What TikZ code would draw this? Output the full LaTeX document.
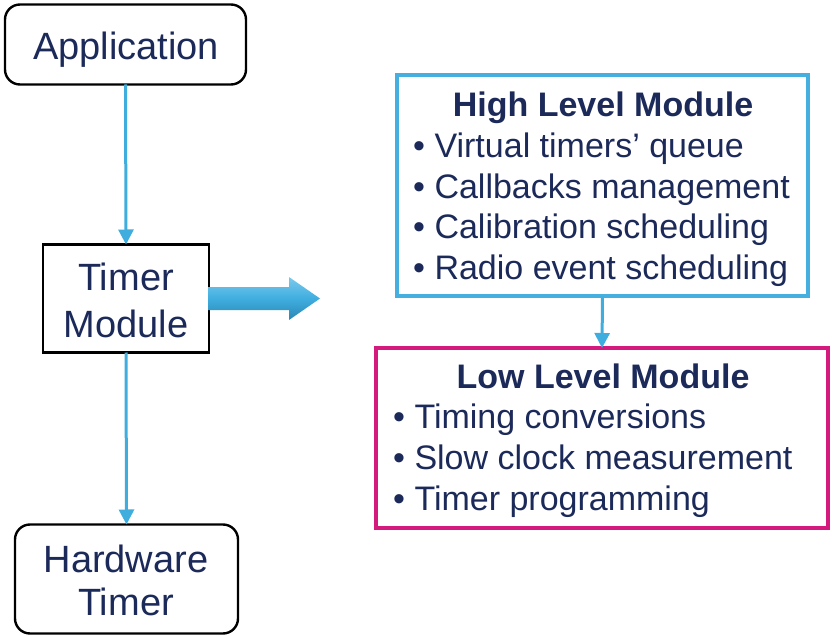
\documentclass[tikz,border=0pt]{standalone}
\usepackage{fontspec}
\setmainfont{Liberation Sans}
\usetikzlibrary{arrows.meta}
\definecolor{ink}{HTML}{1C2A5A}
\definecolor{linkblue}{HTML}{3FAEDF}
\definecolor{hiblue}{HTML}{45B0E0}
\definecolor{lomag}{HTML}{D41A7C}
\definecolor{arrowtop}{HTML}{7CC9EC}
\definecolor{arrowbot}{HTML}{2A86B4}

\begin{document}
\begin{tikzpicture}[x=1pt,y=-1pt,
  big/.style={font=\fontsize{38}{44}\selectfont, text=ink, anchor=base, inner sep=0},
  item/.style={font=\fontsize{34}{40}\selectfont, text=ink, anchor=base west, inner sep=0},
  head/.style={font=\bfseries\fontsize{34}{40}\selectfont, text=ink, anchor=base, inner sep=0},
  link/.style={draw=linkblue, line width=3pt, -{Triangle[width=15pt,length=15pt]}},
  rbox/.style={draw=black, line width=2.4pt, rounded corners=15pt, fill=white, outer sep=0},
  sbox/.style={draw=black, line width=2.4pt, fill=white, outer sep=0},
  listbox/.style={line width=4pt, fill=white, outer sep=0}]

\useasboundingbox (0,0) rectangle (832,636);

% left column: three blocks
\node[rbox, minimum width=241pt, minimum height=80pt] (app) at (125.5,44.5) {};
\node[sbox, minimum width=166pt, minimum height=108pt] (tm) at (126,298.5) {};
\node[rbox, minimum width=223pt, minimum height=109pt] (hw) at (126.5,579) {};

\node[big] (appT) at (126,59.5) {Application};
\node[big] (tmT1) at (126,290) {Timer};
\node[big] (tmT2) at (126,337) {Module};
\node[big] (hwT1) at (126,572) {Hardware};
\node[big] (hwT2) at (126,615) {Timer};

\draw[link] (app.south) -- (tm.north);
\draw[link] (tm.south) -- (hw.north);

% right column: the two module layers
\node[listbox, draw=hiblue, minimum width=411pt, minimum height=221pt] (hi) at (602.5,185.5) {};
\node[listbox, draw=lomag, line width=3.6pt, minimum width=452pt, minimum height=180pt] (lo) at (602,438) {};

\node[head] (hiT) at (603,117) {High Level Module};
\node[item] (hi1) at (413,158) {• Virtual timers’ queue};
\node[item] (hi2) at (413,198.5) {• Callbacks management};
\node[item] (hi3) at (413,239) {• Calibration scheduling};
\node[item] (hi4) at (413,279.5) {• Radio event scheduling};

\node[head] (loT) at (603,388) {Low Level Module};
\node[item] (lo1) at (393,428) {• Timing conversions};
\node[item] (lo2) at (393,469.5) {• Slow clock measurement};
\node[item] (lo3) at (393,510) {• Timer programming};

\draw[link] (hi.south) -- (lo.north);

% wide shaded arrow from the timer block towards the module layers
\path[shift={(tm.east)}, top color=arrowtop, bottom color=arrowbot, middle color=linkblue]
  (-1,-11.5) -- (80,-11.5) -- (80,-21.5) -- (111,0) -- (80,21.5) -- (80,11.5) -- (-1,11.5) -- cycle;
\end{tikzpicture}
\end{document}
